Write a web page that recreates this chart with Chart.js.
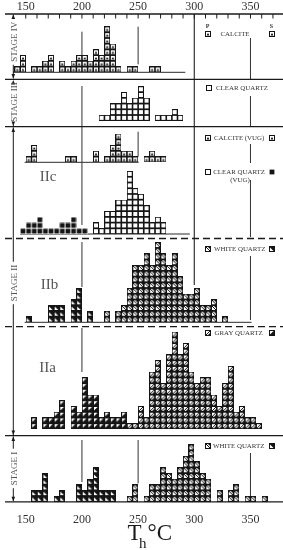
<!DOCTYPE html>
<html><head><meta charset="utf-8">
<script src="https://cdn.jsdelivr.net/npm/chart.js@4.4.1/dist/chart.umd.min.js"></script>
<style>html,body{margin:0;padding:0;background:#fff;overflow:hidden}canvas{display:block}</style>
</head><body><canvas id="c" width="283" height="550"></canvas>
<script>
// ---------- DATA (5 °C bins, value = lower bin edge; n = number of inclusions) ----------
const tickLabels = [150, 200, 250, 300, 350];

const stageIV_calcite_T = [140,145,155,160,165,170,180,185,190,195,200,205,210,215,220,225,230,240,245,260,265];
const stageIV_calcite_n = [1,3,1,1,2,3,2,1,2,3,3,2,4,3,8,5,1,1,1,1,1];

const stageIII_clear_T = [215,220,225,230,235,240,245,250,255,265,270,275,280,285];
const stageIII_clear_n = [1,1,3,3,5,3,4,6,4,1,1,1,2,1];

const IIc_calciteVug_T = [150,155,185,190,210,220,225,230,235,240,245,255,260,265,270];
const IIc_calciteVug_n = [1,3,1,1,2,1,3,5,2,2,1,1,2,1,1];

const IIc_clearVugP_T = [210,215,220,225,230,235,240,245,250,255,260,265,270];
const IIc_clearVugP_n = [2,1,4,4,6,6,11,8,7,5,2,3,2];
const IIc_clearVugS_T = [145,150,155,160,165,170,175,180,185,190,195,200];
const IIc_clearVugS_n = [1,2,2,3,1,1,1,2,2,3,1,1];

const IIb_whiteP_T = [220,230,235,240,245,250,255,260,265,270,275,280,285,290,295,300,305,310,315,325];
const IIb_whiteP_n = [2,2,3,6,10,10,12,10,14,12,10,12,8,5,5,6,3,3,4,1];
const IIb_whiteS_T = [150,170,175,180,190,195,205];
const IIb_whiteS_n = [1,3,3,3,4,6,2];

const IIa_grayP_T = [240,245,250,255,260,265,270,275,280,285,290,295,300,305,310,315,320,325,330,335,340,345,350,355];
const IIa_grayP_n = [1,1,4,2,10,12,8,13,17,13,15,10,8,9,9,6,4,8,11,3,4,2,2,1];
const IIa_grayS_T = [155,165,170,175,180,190,195,200,205,210,215,220,225,230,235];
const IIa_grayS_n = [2,2,2,3,5,4,3,9,6,6,2,3,2,2,3];

const stageI_whiteP_T = [240,245,255,260,265,270,275,280,285,290,295,300,305,310,320,330,335,345,350,360];
const stageI_whiteP_n = [1,3,1,3,3,6,5,4,6,8,10,7,5,4,2,2,3,1,1,1];
const stageI_whiteS_T = [155,160,165,175,180,195,200,205,210,215,220,225];
const stageI_whiteS_n = [2,2,5,1,2,3,2,4,6,2,2,2];

// ---------- LAYOUT ----------
const W = 283, H = 550;
const AREA = {left: 13, top: 14, bottom: 502};
const XMIN = 138.64, XMAX = 374.5, BIN = 5;
const U = (W - AREA.left) / (XMAX - XMIN) * BIN;   // px per square
const YMAX = (AREA.bottom - AREA.top) / U;
const toUnits = py => (AREA.bottom - py) / U;

// ---------- GLYPHS ----------
function makeGlyph(kind) {
  const c = document.createElement('canvas'); c.width = 6; c.height = 6;
  const g = c.getContext('2d');
  const ink = '#141414';
  const tri = (pts, col) => { g.fillStyle = col; g.beginPath(); g.moveTo(pts[0], pts[1]); g.lineTo(pts[2], pts[3]); g.lineTo(pts[4], pts[5]); g.closePath(); g.fill(); };
  g.fillStyle = '#fff'; g.fillRect(0, 0, 6, 6);
  if (kind === 'clearS') { g.fillStyle = ink; g.fillRect(0.6, 0.6, 4.8, 4.8); return c; }
  if (kind === 'whiteS' || kind === 'grayS') { g.fillStyle = ink; g.fillRect(0, 0, 6, 6); }
  if (kind === 'whiteS') tri([1, 1.4, 1, 5, 4.6, 5], '#fff');
  if (kind === 'grayS') tri([1, 1, 4.6, 1, 1, 4.6], '#fff');
  g.strokeStyle = ink; g.lineWidth = 1; g.strokeRect(0.5, 0.5, 5, 5);
  if (kind === 'calcite') tri([3, 2.0, 4.5, 4.6, 1.5, 4.6], ink);
  if (kind === 'whiteP') { g.beginPath(); g.moveTo(0.5, 0.5); g.lineTo(5.5, 5.5); g.stroke(); tri([3, 1, 5, 1, 5, 3], ink); }
  if (kind === 'grayP') { g.beginPath(); g.moveTo(0.5, 5.5); g.lineTo(5.5, 0.5); g.stroke(); tri([5, 3, 5, 5, 3, 5], ink); }
  return c;
}
const glyphs = {};
['calcite','clearP','clearS','whiteP','whiteS','grayP','grayS'].forEach(k => glyphs[k] = makeGlyph(k));

// ---------- DATASETS ----------
function stack(T, n, basePx) {
  const base = toUnits(basePx), pts = [];
  T.forEach((t, i) => { for (let k = 0; k < n[i]; k++) pts.push({x: t + BIN / 2, y: base + k + 0.5}); });
  return pts;
}
const series = [
  ['Stage IV calcite', stageIV_calcite_T, stageIV_calcite_n, 72.3, 'calcite'],
  ['Stage III clear quartz', stageIII_clear_T, stageIII_clear_n, 120.7, 'clearP'],
  ['IIc calcite (vug)', IIc_calciteVug_T, IIc_calciteVug_n, 162.3, 'calcite'],
  ['IIc clear quartz (vug) P', IIc_clearVugP_T, IIc_clearVugP_n, 234, 'clearP'],
  ['IIc clear quartz (vug) S', IIc_clearVugS_T, IIc_clearVugS_n, 234, 'clearS'],
  ['IIb white quartz P', IIb_whiteP_T, IIb_whiteP_n, 322.3, 'whiteP'],
  ['IIb white quartz S', IIb_whiteS_T, IIb_whiteS_n, 322.3, 'whiteS'],
  ['IIa gray quartz P', IIa_grayP_T, IIa_grayP_n, 429, 'grayP'],
  ['IIa gray quartz S', IIa_grayS_T, IIa_grayS_n, 429, 'grayS'],
  ['Stage I white quartz P', stageI_whiteP_T, stageI_whiteP_n, 501.7, 'whiteP'],
  ['Stage I white quartz S', stageI_whiteS_T, stageI_whiteS_n, 501.7, 'whiteS']
];
const datasets = series.map(([label, T, n, base, kind]) => ({
  label, data: stack(T, n, base), pointStyle: glyphs[kind], pointRadius: 3, showLine: false, clip: false
}));

// ---------- DECORATION ----------
const SERIF = '"Liberation Serif", "DejaVu Serif", serif';
const decor = {
  id: 'decor',
  beforeDatasetsDraw(chart) {
    const ctx = chart.ctx, X = v => chart.scales.x.getPixelForValue(v);
    const v = (x, y1, y2, w) => { ctx.lineWidth = w || 1; ctx.beginPath(); ctx.moveTo(x, y1); ctx.lineTo(x, y2); ctx.stroke(); };
    const h = (x1, x2, y, w) => { ctx.lineWidth = w || 1; ctx.beginPath(); ctx.moveTo(x1, y); ctx.lineTo(x2, y); ctx.stroke(); };
    ctx.save();
    ctx.strokeStyle = '#2a2a2a';
    // panel floors
    h(X(XMIN), X(292), 72.3);
    h(X(149), X(250.5), 162.3);
    h(X(145), X(296), 234);
    h(X(149), X(351), 322.3);
    // reference lines
    ctx.strokeStyle = '#333';
    v(X(200), 31.7, 66.7); v(X(250), 26.7, 64.3);
    v(X(200), 86, 225);
    v(X(250), 131.7, 156.7);
    v(X(200), 242, 287);
    v(X(200), 328, 372);
    v(X(200), 440, 482); v(X(250), 440, 483.5);
    v(X(300), 14, 285, 1.2);
    v(X(350), 38, 79.3); v(X(350), 96, 127); v(X(350), 144, 163); v(X(350), 180, 237);
    v(X(350), 256, 320); v(X(350), 453, 497);
    ctx.restore();
  },
  afterDraw(chart) {
    const ctx = chart.ctx, X = v => chart.scales.x.getPixelForValue(v);
    ctx.save();
    ctx.strokeStyle = '#1a1a1a'; ctx.fillStyle = '#1a1a1a';
    const h = (y, dash, w) => { ctx.setLineDash(dash || []); ctx.lineWidth = w || 1.3; ctx.beginPath(); ctx.moveTo(5, y); ctx.lineTo(W, y); ctx.stroke(); ctx.setLineDash([]); };
    h(14); h(79.3); h(126.7); h(238.5, [7, 4]); h(326.7, [7, 4]); h(435.7); h(501.8);
    // top-axis inward ticks and labels
    ctx.lineWidth = 1;
    for (let t = 150; t <= 370; t += 10) { const x = X(t); ctx.beginPath(); ctx.moveTo(x, 14); ctx.lineTo(x, 18.5); ctx.stroke(); }
    ctx.fillStyle = '#333'; ctx.font = '12px ' + SERIF; ctx.textAlign = 'center'; ctx.textBaseline = 'alphabetic';
    tickLabels.forEach(t => ctx.fillText(String(t), chart.scales.x2.getPixelForValue(t), 10.2));
    ctx.fillStyle = '#1a1a1a';
    // stage brackets
    const BX = 13.3;
    const arrow = (y, dir) => { ctx.beginPath(); ctx.moveTo(BX, y); ctx.lineTo(BX - 1.8, y + dir * 4.5); ctx.lineTo(BX + 1.8, y + dir * 4.5); ctx.closePath(); ctx.fill(); };
    const seg = (a, b) => { if (b > a) { ctx.beginPath(); ctx.moveTo(BX, a); ctx.lineTo(BX, b); ctx.stroke(); } };
    const brackets = [
      {top: 14.6, bot: 78.6, label: 'STAGE IV', c: 41.7},
      {top: 80, bot: 126, label: 'STAGE III', c: 102},
      {top: 127.4, bot: 435, label: 'STAGE II', c: 283},
      {top: 436.4, bot: 501.2, label: 'STAGE I', c: 468.5}
    ];
    ctx.font = '9px ' + SERIF;
    brackets.forEach(b => {
      const half = ctx.measureText(b.label).width / 2 + 3;
      arrow(b.top, 1); arrow(b.bot, -1);
      seg(b.top, b.c - half); seg(b.c + half, b.bot);
      ctx.save(); ctx.fillStyle = '#555'; ctx.translate(14.8, b.c); ctx.rotate(-Math.PI / 2);
      ctx.textAlign = 'center'; ctx.textBaseline = 'middle'; ctx.fillText(b.label, 0, 0); ctx.restore();
    });
    // sub-stage labels
    ctx.fillStyle = '#555'; ctx.font = '15px ' + SERIF; ctx.textAlign = 'center'; ctx.textBaseline = 'middle';
    ctx.fillText('IIc', 48, 177); ctx.fillText('IIb', 49.5, 285); ctx.fillText('IIa', 47.5, 368);
    // legend column
    const sym = (k, x, y) => ctx.drawImage(glyphs[k], Math.round(x - 3), Math.round(y - 3));
    ctx.fillStyle = '#333'; ctx.textBaseline = 'middle';
    ctx.font = 'bold 6px ' + SERIF; ctx.textAlign = 'center';
    ctx.fillText('P', 207.5, 26.5); ctx.fillText('S', 271.5, 26.5);
    const rows = [
      {y: 34, l: 'calcite', r: 'calcite', t: 'CALCITE', tx: 235, al: 'center'},
      {y: 88.3, l: 'clearP', t: 'CLEAR QUARTZ', tx: 216, lx: 209},
      {y: 137.5, l: 'calcite', r: 'calcite', t: 'CALCITE (VUG)', tx: 214},
      {y: 171.7, l: 'clearP', r: 'clearS', t: 'CLEAR QUARTZ', tx: 213.2, lx: 208.3},
      {y: 249.3, l: 'whiteP', r: 'whiteS', t: 'WHITE QUARTZ', tx: 214},
      {y: 333, l: 'grayP', r: 'grayS', t: 'GRAY QUARTZ', tx: 214.5},
      {y: 445.5, l: 'whiteP', r: 'whiteS', t: 'WHITE QUARTZ', tx: 213}
    ];
    ctx.font = '6.9px ' + SERIF;
    rows.forEach(r => {
      sym(r.l, r.lx || 207.5, r.y); if (r.r) sym(r.r, 271.8, r.y);
      ctx.textAlign = r.al || 'left'; ctx.fillText(r.t, r.tx, r.y + 0.3);
    });
    ctx.textAlign = 'center'; ctx.fillText('(VUG)', 240, 180.2);
    // axis title
    ctx.fillStyle = '#1a1a1a'; ctx.textAlign = 'left'; ctx.textBaseline = 'alphabetic';
    ctx.font = '23px ' + SERIF; ctx.fillText('T', 127.5, 540);
    ctx.font = '15px ' + SERIF; ctx.fillText('h', 139, 548);
    ctx.font = '23px ' + SERIF; ctx.fillText('°C', 147.5, 540);
    ctx.restore();
  }
};

const tickFont = {family: SERIF, size: 12};
const setTicks = s => { s.ticks = tickLabels.map(v => ({value: v})); };
new Chart(document.getElementById('c'), {
  type: 'scatter',
  data: {datasets},
  options: {
    responsive: false, animation: false, devicePixelRatio: 1,
    layout: {padding: {left: AREA.left, right: 0, top: 0, bottom: 0}},
    plugins: {legend: {display: false}, tooltip: {enabled: false}},
    events: [],
    scales: {
      x: {type: 'linear', position: 'bottom', min: XMIN, max: XMAX,
          afterBuildTicks: setTicks, afterFit: s => { s.height = H - AREA.bottom; },
          grid: {display: false}, border: {display: false},
          ticks: {font: tickFont, color: '#333', padding: 2.5, maxRotation: 0, autoSkip: false}},
      x2: {type: 'linear', position: 'top', min: XMIN, max: XMAX,
          afterBuildTicks: setTicks, afterFit: s => { s.height = AREA.top; },
          grid: {display: false}, border: {display: false},
          ticks: {display: false}},
      y: {display: false, min: 0, max: YMAX}
    }
  },
  plugins: [decor]
});
</script></body></html>
